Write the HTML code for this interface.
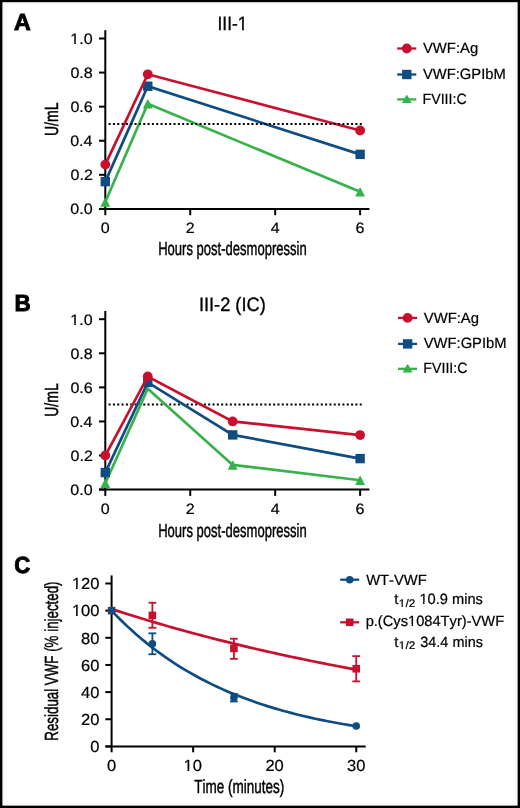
<!DOCTYPE html>
<html><head><meta charset="utf-8"><style>
html,body{margin:0;padding:0;background:#fff;}
svg{display:block;will-change:transform;}
text{font-family:"Liberation Sans",sans-serif;font-kerning:none;text-rendering:geometricPrecision;}
</style></head><body>
<svg width="520" height="808" viewBox="0 0 520 808">
<rect x="0" y="0" width="520" height="808" fill="#000"/>
<rect x="2.4" y="2.18" width="515.2" height="803.45" fill="#fff"/>
<rect x="3.5" y="3.5" width="512.6" height="800.7" fill="none" stroke="#000" stroke-opacity="0.035" stroke-width="1"/>
<g fill="#000">
<text transform="translate(13.97 30.20) scale(0.9937 1)" font-size="23.4" font-weight="bold" stroke="#000" stroke-width="0.9">A</text>
<text transform="translate(14.55 310.60) scale(0.9600 1)" font-size="23.4" font-weight="bold" stroke="#000" stroke-width="0.9">B</text>
<text transform="translate(14.34 573.30) scale(0.9478 1)" font-size="23.4" font-weight="bold" stroke="#000" stroke-width="0.9">C</text>
<text transform="translate(217.49 29.80) scale(0.9004 1)" font-size="19.4" stroke="#000" stroke-width="0.35">III-1</text>
<rect x="238.00" y="28.00" width="4.14" height="3.00" fill="#fff"/>
<rect x="243.92" y="28.00" width="3.58" height="3.00" fill="#fff"/>
<line x1="105.30" y1="30.20" x2="105.30" y2="215.20" stroke="#000" stroke-width="2" />
<line x1="99.00" y1="208.90" x2="369.40" y2="208.90" stroke="#000" stroke-width="2" />
<line x1="99.00" y1="208.90" x2="105.30" y2="208.90" stroke="#000" stroke-width="2" />
<text transform="translate(70.32 214.30) scale(1.0700 1)" font-size="15.0"  stroke="#000" stroke-width="0.22">0.0</text>
<line x1="99.00" y1="174.82" x2="105.30" y2="174.82" stroke="#000" stroke-width="2" />
<text transform="translate(70.50 180.22) scale(1.0700 1)" font-size="15.0"  stroke="#000" stroke-width="0.22">0.2</text>
<line x1="99.00" y1="140.74" x2="105.30" y2="140.74" stroke="#000" stroke-width="2" />
<text transform="translate(70.16 146.14) scale(1.0700 1)" font-size="15.0"  stroke="#000" stroke-width="0.22">0.4</text>
<line x1="99.00" y1="106.66" x2="105.30" y2="106.66" stroke="#000" stroke-width="2" />
<text transform="translate(70.39 112.06) scale(1.0700 1)" font-size="15.0"  stroke="#000" stroke-width="0.22">0.6</text>
<line x1="99.00" y1="72.58" x2="105.30" y2="72.58" stroke="#000" stroke-width="2" />
<text transform="translate(70.39 77.98) scale(1.0700 1)" font-size="15.0"  stroke="#000" stroke-width="0.22">0.8</text>
<line x1="99.00" y1="38.50" x2="105.30" y2="38.50" stroke="#000" stroke-width="2" />
<text transform="translate(70.32 43.90) scale(1.0700 1)" font-size="15.0"  stroke="#000" stroke-width="0.22">1.0</text>
<rect x="71.00" y="42.00" width="3.23" height="3.00" fill="#fff"/>
<rect x="75.89" y="42.00" width="3.11" height="3.00" fill="#fff"/>
<line x1="190.24" y1="208.90" x2="190.24" y2="215.20" stroke="#000" stroke-width="2" />
<line x1="275.18" y1="208.90" x2="275.18" y2="215.20" stroke="#000" stroke-width="2" />
<line x1="360.12" y1="208.90" x2="360.12" y2="215.20" stroke="#000" stroke-width="2" />
<text transform="translate(100.84 232.90) scale(1.0700 1)" font-size="15.0"  stroke="#000" stroke-width="0.22">0</text>
<text transform="translate(185.78 232.90) scale(1.0700 1)" font-size="15.0"  stroke="#000" stroke-width="0.22">2</text>
<text transform="translate(270.77 232.90) scale(1.0700 1)" font-size="15.0"  stroke="#000" stroke-width="0.22">4</text>
<text transform="translate(355.60 232.90) scale(1.0700 1)" font-size="15.0"  stroke="#000" stroke-width="0.22">6</text>
<text transform="translate(158.13 255.20) scale(0.6865 1)" font-size="19.0" stroke="#000" stroke-width="0.45">Hours post-desmopressin</text>
<text transform="translate(58.10 135.00) rotate(-90) translate(-1.08 0) scale(0.7391 1)" font-size="19.0" stroke="#000" stroke-width="0.45">U/mL</text>
<polyline points="105.30,202.08 147.77,103.76 360.12,191.86" fill="none" stroke="#37B24A" stroke-width="2.7" stroke-linejoin="miter"/>
<path d="M104.70 198.13L105.90 198.13L110.20 206.83L100.40 206.83Z" fill="#37B24A"/>
<path d="M147.17 99.81L148.37 99.81L152.67 108.51L142.87 108.51Z" fill="#37B24A"/>
<path d="M359.52 187.91L360.72 187.91L365.02 196.61L355.22 196.61Z" fill="#37B24A"/>
<polyline points="105.30,181.64 147.77,86.21 360.12,154.37" fill="none" stroke="#0F4C81" stroke-width="2.7" stroke-linejoin="miter"/>
<rect x="100.60" y="176.94" width="9.4" height="9.4" fill="#0F4C81"/>
<rect x="143.07" y="81.51" width="9.4" height="9.4" fill="#0F4C81"/>
<rect x="355.42" y="149.67" width="9.4" height="9.4" fill="#0F4C81"/>
<polyline points="105.30,164.60 147.77,74.28 360.12,130.52" fill="none" stroke="#C8102E" stroke-width="2.7" stroke-linejoin="miter"/>
<circle cx="105.30" cy="164.60" r="4.9" fill="#C8102E"/>
<circle cx="147.77" cy="74.28" r="4.9" fill="#C8102E"/>
<circle cx="360.12" cy="130.52" r="4.9" fill="#C8102E"/>
<line x1="108.6" y1="123.9" x2="362" y2="123.9" stroke="#000" stroke-width="2" stroke-dasharray="2 2.33"/>
<line x1="397.20" y1="48.50" x2="416.30" y2="48.50" stroke="#C8102E" stroke-width="2.3" />
<circle cx="406.80" cy="48.50" r="4.9" fill="#C8102E"/>
<text transform="translate(422.93 53.40) scale(0.9974 1)" font-size="14.9"  stroke="#000" stroke-width="0.22">VWF:Ag</text>
<line x1="397.20" y1="74.50" x2="416.30" y2="74.50" stroke="#0F4C81" stroke-width="2.3" />
<rect x="402.10" y="69.80" width="9.4" height="9.4" fill="#0F4C81"/>
<text transform="translate(422.94 78.60) scale(0.9912 1)" font-size="14.9"  stroke="#000" stroke-width="0.22">VWF:GPIbM</text>
<line x1="397.20" y1="99.40" x2="416.30" y2="99.40" stroke="#37B24A" stroke-width="2.3" />
<path d="M406.20 95.20L407.40 95.20L411.70 103.00L401.90 103.00Z" fill="#37B24A"/>
<text transform="translate(422.53 103.80) scale(0.9536 1)" font-size="14.9"  stroke="#000" stroke-width="0.22">FVIII:C</text>
<text transform="translate(198.92 310.50) scale(0.9393 1)" font-size="19.4" stroke="#000" stroke-width="0.35">III-2 (IC)</text>
<line x1="105.30" y1="310.90" x2="105.30" y2="495.90" stroke="#000" stroke-width="2" />
<line x1="99.00" y1="489.60" x2="369.40" y2="489.60" stroke="#000" stroke-width="2" />
<line x1="99.00" y1="489.60" x2="105.30" y2="489.60" stroke="#000" stroke-width="2" />
<text transform="translate(70.32 495.00) scale(1.0700 1)" font-size="15.0"  stroke="#000" stroke-width="0.22">0.0</text>
<line x1="99.00" y1="455.52" x2="105.30" y2="455.52" stroke="#000" stroke-width="2" />
<text transform="translate(70.50 460.92) scale(1.0700 1)" font-size="15.0"  stroke="#000" stroke-width="0.22">0.2</text>
<line x1="99.00" y1="421.44" x2="105.30" y2="421.44" stroke="#000" stroke-width="2" />
<text transform="translate(70.16 426.84) scale(1.0700 1)" font-size="15.0"  stroke="#000" stroke-width="0.22">0.4</text>
<line x1="99.00" y1="387.36" x2="105.30" y2="387.36" stroke="#000" stroke-width="2" />
<text transform="translate(70.39 392.76) scale(1.0700 1)" font-size="15.0"  stroke="#000" stroke-width="0.22">0.6</text>
<line x1="99.00" y1="353.28" x2="105.30" y2="353.28" stroke="#000" stroke-width="2" />
<text transform="translate(70.39 358.68) scale(1.0700 1)" font-size="15.0"  stroke="#000" stroke-width="0.22">0.8</text>
<line x1="99.00" y1="319.20" x2="105.30" y2="319.20" stroke="#000" stroke-width="2" />
<text transform="translate(70.32 324.60) scale(1.0700 1)" font-size="15.0"  stroke="#000" stroke-width="0.22">1.0</text>
<rect x="71.00" y="323.00" width="3.23" height="3.00" fill="#fff"/>
<rect x="75.89" y="323.00" width="3.11" height="3.00" fill="#fff"/>
<line x1="190.24" y1="489.60" x2="190.24" y2="495.90" stroke="#000" stroke-width="2" />
<line x1="275.18" y1="489.60" x2="275.18" y2="495.90" stroke="#000" stroke-width="2" />
<line x1="360.12" y1="489.60" x2="360.12" y2="495.90" stroke="#000" stroke-width="2" />
<text transform="translate(100.84 513.60) scale(1.0700 1)" font-size="15.0"  stroke="#000" stroke-width="0.22">0</text>
<text transform="translate(185.78 513.60) scale(1.0700 1)" font-size="15.0"  stroke="#000" stroke-width="0.22">2</text>
<text transform="translate(270.77 513.60) scale(1.0700 1)" font-size="15.0"  stroke="#000" stroke-width="0.22">4</text>
<text transform="translate(355.60 513.60) scale(1.0700 1)" font-size="15.0"  stroke="#000" stroke-width="0.22">6</text>
<text transform="translate(158.13 537.20) scale(0.6865 1)" font-size="19.0" stroke="#000" stroke-width="0.45">Hours post-desmopressin</text>
<text transform="translate(58.10 415.70) rotate(-90) translate(-1.08 0) scale(0.7391 1)" font-size="19.0" stroke="#000" stroke-width="0.45">U/mL</text>
<line x1="108.6" y1="404.6" x2="362" y2="404.6" stroke="#000" stroke-width="2" stroke-dasharray="2 2.33"/>
<polyline points="105.30,483.30 147.77,388.72 232.71,464.89 360.12,480.23" fill="none" stroke="#37B24A" stroke-width="2.7" stroke-linejoin="miter"/>
<path d="M104.70 479.35L105.90 479.35L110.20 488.05L100.40 488.05Z" fill="#37B24A"/>
<path d="M232.11 460.94L233.31 460.94L237.61 469.64L227.81 469.64Z" fill="#37B24A"/>
<path d="M359.52 476.28L360.72 476.28L365.02 484.98L355.22 484.98Z" fill="#37B24A"/>
<polyline points="105.30,472.56 147.77,382.42 232.71,434.90 360.12,458.59" fill="none" stroke="#0F4C81" stroke-width="2.7" stroke-linejoin="miter"/>
<rect x="100.60" y="467.86" width="9.4" height="9.4" fill="#0F4C81"/>
<rect x="143.07" y="377.72" width="9.4" height="9.4" fill="#0F4C81"/>
<rect x="228.01" y="430.20" width="9.4" height="9.4" fill="#0F4C81"/>
<rect x="355.42" y="453.89" width="9.4" height="9.4" fill="#0F4C81"/>
<polyline points="105.30,455.52 147.77,376.45 232.71,421.44 360.12,435.07" fill="none" stroke="#C8102E" stroke-width="2.7" stroke-linejoin="miter"/>
<circle cx="105.30" cy="455.52" r="4.9" fill="#C8102E"/>
<circle cx="147.77" cy="376.45" r="4.9" fill="#C8102E"/>
<circle cx="232.71" cy="421.44" r="4.9" fill="#C8102E"/>
<circle cx="360.12" cy="435.07" r="4.9" fill="#C8102E"/>
<line x1="398.00" y1="317.90" x2="417.10" y2="317.90" stroke="#C8102E" stroke-width="2.3" />
<circle cx="407.60" cy="317.90" r="4.9" fill="#C8102E"/>
<text transform="translate(423.73 322.80) scale(0.9974 1)" font-size="14.9"  stroke="#000" stroke-width="0.22">VWF:Ag</text>
<line x1="398.00" y1="343.90" x2="417.10" y2="343.90" stroke="#0F4C81" stroke-width="2.3" />
<rect x="402.90" y="339.20" width="9.4" height="9.4" fill="#0F4C81"/>
<text transform="translate(423.74 348.00) scale(0.9912 1)" font-size="14.9"  stroke="#000" stroke-width="0.22">VWF:GPIbM</text>
<line x1="398.00" y1="368.80" x2="417.10" y2="368.80" stroke="#37B24A" stroke-width="2.3" />
<path d="M407.00 364.60L408.20 364.60L412.50 372.40L402.70 372.40Z" fill="#37B24A"/>
<text transform="translate(423.33 373.20) scale(0.9536 1)" font-size="14.9"  stroke="#000" stroke-width="0.22">FVIII:C</text>
<line x1="111.60" y1="575.40" x2="111.60" y2="752.30" stroke="#000" stroke-width="2" />
<line x1="105.30" y1="746.40" x2="365.70" y2="746.40" stroke="#000" stroke-width="2" />
<line x1="105.30" y1="746.40" x2="111.60" y2="746.40" stroke="#000" stroke-width="2" />
<text transform="translate(90.28 752.10) scale(1.0300 1)" font-size="16.0"  stroke="#000" stroke-width="0.22">0</text>
<line x1="105.30" y1="719.25" x2="111.60" y2="719.25" stroke="#000" stroke-width="2" />
<text transform="translate(81.11 724.95) scale(1.0300 1)" font-size="16.0"  stroke="#000" stroke-width="0.22">20</text>
<line x1="105.30" y1="692.10" x2="111.60" y2="692.10" stroke="#000" stroke-width="2" />
<text transform="translate(81.11 697.80) scale(1.0300 1)" font-size="16.0"  stroke="#000" stroke-width="0.22">40</text>
<line x1="105.30" y1="664.95" x2="111.60" y2="664.95" stroke="#000" stroke-width="2" />
<text transform="translate(81.11 670.65) scale(1.0300 1)" font-size="16.0"  stroke="#000" stroke-width="0.22">60</text>
<line x1="105.30" y1="637.80" x2="111.60" y2="637.80" stroke="#000" stroke-width="2" />
<text transform="translate(81.11 643.50) scale(1.0300 1)" font-size="16.0"  stroke="#000" stroke-width="0.22">80</text>
<line x1="105.30" y1="610.65" x2="111.60" y2="610.65" stroke="#000" stroke-width="2" />
<text transform="translate(71.95 616.35) scale(1.0300 1)" font-size="16.0"  stroke="#000" stroke-width="0.22">100</text>
<rect x="72.00" y="614.00" width="3.97" height="3.00" fill="#fff"/>
<rect x="77.67" y="614.00" width="3.33" height="3.00" fill="#fff"/>
<line x1="105.30" y1="583.50" x2="111.60" y2="583.50" stroke="#000" stroke-width="2" />
<text transform="translate(71.95 589.20) scale(1.0300 1)" font-size="16.0"  stroke="#000" stroke-width="0.22">120</text>
<rect x="72.00" y="587.00" width="3.97" height="3.00" fill="#fff"/>
<rect x="77.67" y="587.00" width="3.33" height="3.00" fill="#fff"/>
<line x1="193.15" y1="746.40" x2="193.15" y2="752.30" stroke="#000" stroke-width="2" />
<line x1="274.70" y1="746.40" x2="274.70" y2="752.30" stroke="#000" stroke-width="2" />
<line x1="356.25" y1="746.40" x2="356.25" y2="752.30" stroke="#000" stroke-width="2" />
<text transform="translate(107.02 770.60) scale(1.0300 1)" font-size="16.0"  stroke="#000" stroke-width="0.22">0</text>
<text transform="translate(183.51 770.60) scale(1.0300 1)" font-size="16.0"  stroke="#000" stroke-width="0.22">10</text>
<rect x="184.00" y="769.00" width="3.54" height="3.00" fill="#fff"/>
<rect x="189.23" y="769.00" width="3.37" height="3.00" fill="#fff"/>
<text transform="translate(265.44 770.60) scale(1.0300 1)" font-size="16.0"  stroke="#000" stroke-width="0.22">20</text>
<text transform="translate(347.09 770.60) scale(1.0300 1)" font-size="16.0"  stroke="#000" stroke-width="0.22">30</text>
<text transform="translate(194.20 793.00) scale(0.7108 1)" font-size="19.0" stroke="#000" stroke-width="0.45">Time (minutes)</text>
<text transform="translate(58.35 739.60) rotate(-90) translate(-1.09 0) scale(0.7014 1)" font-size="19.0" stroke="#000" stroke-width="0.45">Residual VWF (% injected)</text>
<line x1="152.38" y1="602.78" x2="152.38" y2="627.75" stroke="#C8102E" stroke-width="1.8" />
<line x1="148.47" y1="602.78" x2="156.28" y2="602.78" stroke="#C8102E" stroke-width="1.8" />
<line x1="148.47" y1="627.75" x2="156.28" y2="627.75" stroke="#C8102E" stroke-width="1.8" />
<line x1="233.92" y1="638.75" x2="233.92" y2="658.84" stroke="#C8102E" stroke-width="1.8" />
<line x1="230.02" y1="638.75" x2="237.82" y2="638.75" stroke="#C8102E" stroke-width="1.8" />
<line x1="230.02" y1="658.84" x2="237.82" y2="658.84" stroke="#C8102E" stroke-width="1.8" />
<line x1="356.25" y1="656.13" x2="356.25" y2="681.38" stroke="#C8102E" stroke-width="1.8" />
<line x1="352.35" y1="656.13" x2="360.15" y2="656.13" stroke="#C8102E" stroke-width="1.8" />
<line x1="352.35" y1="681.38" x2="360.15" y2="681.38" stroke="#C8102E" stroke-width="1.8" />
<polyline points="111.60,609.02 115.68,610.35 119.75,611.66 123.83,612.96 127.91,614.24 131.99,615.52 136.06,616.78 140.14,618.03 144.22,619.27 148.30,620.49 152.38,621.71 156.45,622.91 160.53,624.10 164.61,625.28 168.69,626.45 172.76,627.61 176.84,628.75 180.92,629.89 185.00,631.01 189.07,632.12 193.15,633.22 197.23,634.32 201.31,635.40 205.38,636.47 209.46,637.53 213.54,638.58 217.61,639.62 221.69,640.65 225.77,641.67 229.85,642.68 233.92,643.68 238.00,644.67 242.08,645.65 246.16,646.62 250.23,647.58 254.31,648.53 258.39,649.48 262.47,650.41 266.54,651.34 270.62,652.26 274.70,653.16 278.78,654.06 282.86,654.95 286.93,655.83 291.01,656.71 295.09,657.57 299.16,658.43 303.24,659.28 307.32,660.12 311.40,660.95 315.47,661.77 319.55,662.59 323.63,663.40 327.71,664.20 331.78,664.99 335.86,665.78 339.94,666.55 344.02,667.32 348.09,668.09 352.17,668.84 356.25,669.59" fill="none" stroke="#C8102E" stroke-width="2.7" stroke-linejoin="miter"/>
<rect x="107.80" y="606.85" width="7.6" height="7.6" fill="#C8102E"/>
<rect x="148.57" y="611.60" width="7.6" height="7.6" fill="#C8102E"/>
<rect x="230.12" y="644.59" width="7.6" height="7.6" fill="#C8102E"/>
<rect x="352.45" y="664.95" width="7.6" height="7.6" fill="#C8102E"/>
<line x1="152.38" y1="633.32" x2="152.38" y2="654.23" stroke="#0F4C81" stroke-width="1.8" />
<line x1="148.47" y1="633.32" x2="156.28" y2="633.32" stroke="#0F4C81" stroke-width="1.8" />
<line x1="148.47" y1="654.23" x2="156.28" y2="654.23" stroke="#0F4C81" stroke-width="1.8" />
<line x1="233.92" y1="693.86" x2="233.92" y2="701.47" stroke="#0F4C81" stroke-width="1.8" />
<line x1="230.02" y1="693.86" x2="237.82" y2="693.86" stroke="#0F4C81" stroke-width="1.8" />
<line x1="230.02" y1="701.47" x2="237.82" y2="701.47" stroke="#0F4C81" stroke-width="1.8" />
<polyline points="111.60,610.65 115.68,614.90 119.75,619.01 123.83,623.00 127.91,626.86 131.99,630.60 136.06,634.23 140.14,637.74 144.22,641.14 148.30,644.43 152.38,647.62 156.45,650.71 160.53,653.71 164.61,656.61 168.69,659.42 172.76,662.14 176.84,664.78 180.92,667.33 185.00,669.81 189.07,672.21 193.15,674.53 197.23,676.78 201.31,678.96 205.38,681.07 209.46,683.11 213.54,685.09 217.61,687.01 221.69,688.87 225.77,690.67 229.85,692.41 233.92,694.10 238.00,695.74 242.08,697.32 246.16,698.86 250.23,700.35 254.31,701.79 258.39,703.19 262.47,704.54 266.54,705.85 270.62,707.12 274.70,708.35 278.78,709.54 282.86,710.69 286.93,711.81 291.01,712.89 295.09,713.94 299.16,714.96 303.24,715.94 307.32,716.89 311.40,717.82 315.47,718.71 319.55,719.58 323.63,720.42 327.71,721.23 331.78,722.02 335.86,722.78 339.94,723.52 344.02,724.24 348.09,724.93 352.17,725.60 356.25,726.25" fill="none" stroke="#0F4C81" stroke-width="2.7" stroke-linejoin="miter"/>
<circle cx="111.60" cy="610.65" r="3.8" fill="#0F4C81"/>
<circle cx="152.38" cy="643.77" r="3.8" fill="#0F4C81"/>
<circle cx="233.92" cy="697.67" r="3.8" fill="#0F4C81"/>
<circle cx="356.25" cy="726.04" r="3.8" fill="#0F4C81"/>
<line x1="340.20" y1="579.70" x2="359.20" y2="579.70" stroke="#0F4C81" stroke-width="2.3" />
<circle cx="349.70" cy="579.70" r="3.8" fill="#0F4C81"/>
<line x1="340.20" y1="622.30" x2="359.20" y2="622.30" stroke="#C8102E" stroke-width="2.3" />
<rect x="345.90" y="618.50" width="7.6" height="7.6" fill="#C8102E"/>
<text transform="translate(366.14 584.60) scale(0.9906 1)" font-size="14.9"  stroke="#000" stroke-width="0.22">WT-VWF</text>
<text transform="translate(365.65 626.30) scale(0.9843 1)" font-size="14.9"  stroke="#000" stroke-width="0.22">p.(Cys1084Tyr)-VWF</text>
<rect x="408.00" y="624.00" width="3.60" height="3.00" fill="#fff"/>
<rect x="413.13" y="624.00" width="2.87" height="3.00" fill="#fff"/>
<text transform="translate(394.27 604.20) scale(1.0000 1)" font-size="14.9"  stroke="#000" stroke-width="0.22">t</text>
<text transform="translate(398.87 606.80) scale(1.0672 1)" font-size="11.0"  stroke="#000" stroke-width="0.22">1/2</text>
<rect x="399.00" y="606.00" width="2.70" height="2.00" fill="#fff"/>
<rect x="402.98" y="606.00" width="2.37" height="2.00" fill="#fff"/>
<text transform="translate(419.39 604.20) scale(0.9836 1)" font-size="14.9"  stroke="#000" stroke-width="0.22">10.9 mins</text>
<rect x="420.00" y="602.00" width="2.96" height="3.00" fill="#fff"/>
<rect x="424.49" y="602.00" width="2.99" height="3.00" fill="#fff"/>
<text transform="translate(394.27 646.60) scale(1.0000 1)" font-size="14.9"  stroke="#000" stroke-width="0.22">t</text>
<text transform="translate(398.87 649.20) scale(1.0672 1)" font-size="11.0"  stroke="#000" stroke-width="0.22">1/2</text>
<rect x="399.00" y="648.00" width="2.70" height="2.00" fill="#fff"/>
<rect x="402.98" y="648.00" width="2.37" height="2.00" fill="#fff"/>
<text transform="translate(420.25 646.60) scale(0.9702 1)" font-size="14.9"  stroke="#000" stroke-width="0.22">34.4 mins</text>
</g>
</svg>
</body></html>
